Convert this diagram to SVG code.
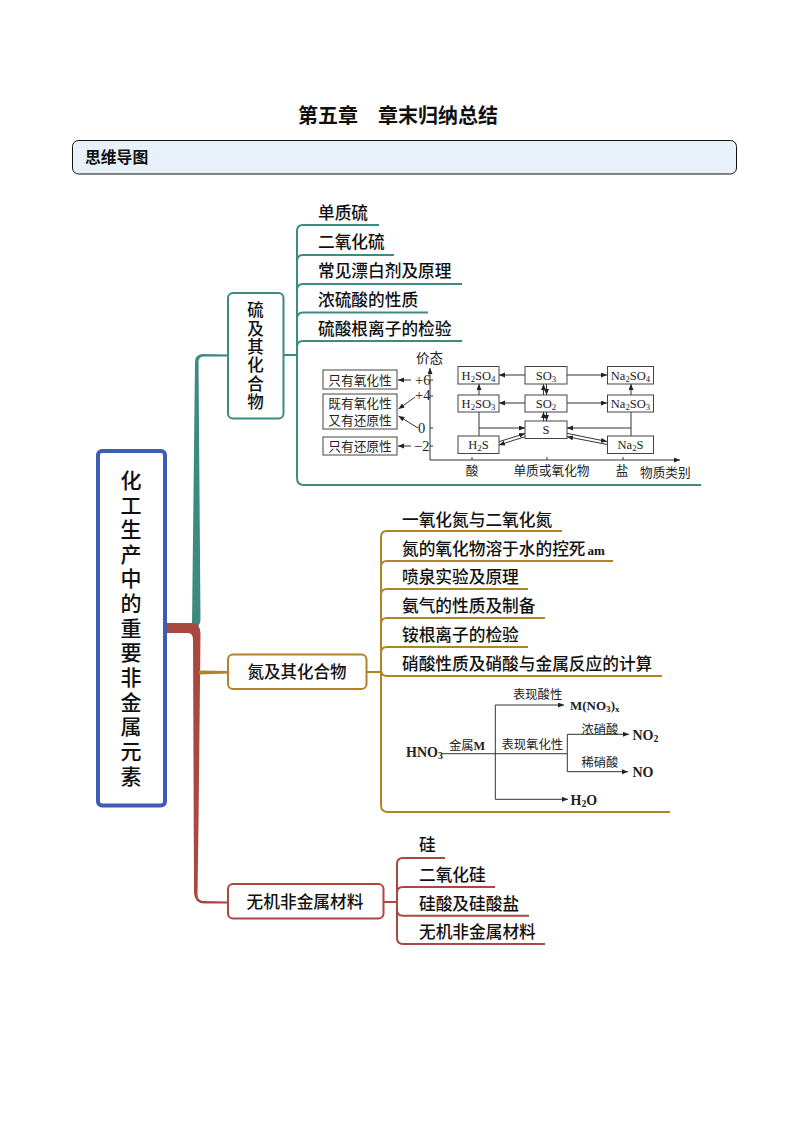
<svg xmlns="http://www.w3.org/2000/svg" width="794" height="1123" viewBox="0 0 794 1123">
<style>
text{font-family:"Noto Sans CJK SC","Noto Sans CJK TC",sans-serif;fill:#111}
.t{font-size:16.7px;font-weight:500}
.v{font-size:16.5px;font-weight:500;text-anchor:middle}
.vt{writing-mode:vertical-rl;font-weight:500}
.c{font-size:12.7px;fill:#222;font-weight:400}
.m{font-family:"Liberation Serif","Noto Sans CJK SC",serif;font-size:12.5px;text-anchor:middle;fill:#222}
.h{font-family:"Liberation Serif","Noto Sans CJK SC",serif;font-size:14px;font-weight:700;fill:#222}
.n{font-family:"Liberation Serif",serif;font-size:14.5px;fill:#222}
.s{font-size:70%}
.box{fill:#fff;stroke-width:2}
.teal{stroke:#3c8a80}.och{stroke:#b08426}.red{stroke:#a9483f}
.br{fill:none;stroke-width:2}
.tb{fill:#fff;stroke:#444;stroke-width:1}
.a{fill:none;stroke:#333;stroke-width:1;marker-end:url(#ah)}
.l{fill:none;stroke:#333;stroke-width:1}
</style>
<defs>
<marker id="ah" markerUnits="userSpaceOnUse" markerWidth="7" markerHeight="6" refX="6" refY="2.5" orient="auto"><path d="M0 0L6 2.5L0 5Z" fill="#222"/></marker>
</defs>
<rect width="794" height="1123" fill="#fff"/>
<g id="title"><text x="298" y="122.500" style="font-size:20px;font-weight:700">第五章　章末归纳总结</text></g>
<g id="header"><rect x="72.500" y="140.500" width="664" height="33.500" rx="6" fill="#e8f1f9" stroke="#111" stroke-width="1"/><text x="85" y="163" style="font-size:15.800px;font-weight:700">思维导图</text></g>

<g id="connectors">
<path d="M195 362Q195 355 202 354L228 354.500V356.500L203 356.500Q198.500 357 198.500 362L200.500 620Q200 627 194 628L192 625Z" fill="#3c8a80"/>
<path d="M167 623L193 623Q200 624 200.500 633L198.500 825L197.500 895Q198 901 204 901L228 901.500V903.500L204 903.500Q194.500 903 194 893L193 640Q193 633 188 633L167 633Z" fill="#a9483f"/>
<path d="M199 670.500L228 671V673.500L199 674.500Z" fill="#b08426"/>
<path class="br teal" d="M284 355H297M379 225H303Q297 225 297 231V478Q297 485 304 485H701M394 255H303Q297 255 297 261M462 284H303Q297 284 297 290M428 312.500H303Q297 312.500 297 319M462 341H303Q297 341 297 347"/>
<path class="br och" d="M367 672H381M562 531H387Q381 531 381 537V805Q381 812 388 812H670M613 561H387Q381 561 381 567M528 589H387Q381 589 381 595M545 618H387Q381 618 381 624M528 647H387Q381 647 381 653M662 676H387Q381 676 381 670"/>
<path class="br red" d="M384 902H397M445 858H403Q397 858 397 864V938Q397 944 403 944H545M495 887H403Q397 887 397 893M529 915.700H403Q397 915.700 397 910"/>
</g>

<g id="root"><rect x="98" y="451" width="67" height="354.500" rx="4" fill="#fff" stroke="#3f5bb5" stroke-width="4"/>
<text class="vt" x="131" y="469.500" style="font-size:21px;letter-spacing:3.63px">化工生产中的重要非金属元素</text></g>

<g id="node-sulfur"><rect class="box teal" x="228" y="293" width="55.500" height="125.500" rx="5"/>
<text class="vt" x="255.500" y="301.700" style="font-size:16.5px;letter-spacing:1.9px">硫及其化合物</text></g>
<g id="node-nitrogen"><rect class="box och" x="228" y="654.500" width="138.500" height="34.500" rx="5"/><text class="v" x="297" y="678">氮及其化合物</text></g>
<g id="node-materials"><rect class="box red" x="228" y="884" width="155.500" height="34.500" rx="5"/><text class="v" x="305" y="908" style="font-size:16.700px">无机非金属材料</text></g>

<g id="sulfur-items">
<text class="t" x="318" y="219">单质硫</text>
<text class="t" x="318" y="248">二氧化硫</text>
<text class="t" x="318" y="277">常见漂白剂及原理</text>
<text class="t" x="318" y="306">浓硫酸的性质</text>
<text class="t" x="318" y="335">硫酸根离子的检验</text>
</g>
<g id="nitrogen-items">
<text class="t" x="402" y="526">一氧化氮与二氧化氮</text>
<text class="t" x="402" y="555">氮的氧化物溶于水的控死<tspan font-family="Liberation Serif" font-size="13" font-weight="700" dx="2">am</tspan></text>
<text class="t" x="402" y="583">喷泉实验及原理</text>
<text class="t" x="402" y="612">氨气的性质及制备</text>
<text class="t" x="402" y="641">铵根离子的检验</text>
<text class="t" x="402" y="670">硝酸性质及硝酸与金属反应的计算</text>
</g>
<g id="material-items">
<text class="t" x="419" y="851">硅</text>
<text class="t" x="419" y="881">二氧化硅</text>
<text class="t" x="419" y="910">硅酸及硅酸盐</text>
<text class="t" x="419" y="938">无机非金属材料</text>
</g>

<g id="sulfur-chart">
<rect class="tb" x="323" y="370" width="74" height="19"/>
<rect class="tb" x="323" y="394" width="74" height="35"/>
<rect class="tb" x="323" y="437" width="74" height="18"/>
<text class="c" x="360" y="384.500" text-anchor="middle">只有氧化性</text>
<text class="c" x="360" y="407.500" text-anchor="middle">既有氧化性</text>
<text class="c" x="360" y="424.500" text-anchor="middle">又有还原性</text>
<text class="c" x="360" y="451" text-anchor="middle">只有还原性</text>
<path class="a" d="M411 380H398"/><path class="a" d="M415 397L398.500 409"/><path class="a" d="M418 428L398.500 416"/><path class="a" d="M411 446H398"/>
<text class="n" x="415" y="385">+6</text><text class="n" x="415" y="400">+4</text><text class="n" x="418" y="433">0</text><text class="n" x="414" y="451">−2</text>
<path class="a" d="M430 460V368"/><path class="a" d="M430 460H680"/>
<path class="l" d="M430 380H433M430 396H433M430 428H433M430 446H433M472 460V457M547 460V457M623 460V457"/>
<text class="c" x="416" y="363" style="font-size:13.500px">价态</text>
<text class="c" x="472" y="475" text-anchor="middle">酸</text>
<text class="c" x="551.500" y="475" text-anchor="middle">单质或氧化物</text>
<text class="c" x="622" y="475" text-anchor="middle">盐</text>
<text class="c" x="640" y="477">物质类别</text>
<path class="l" d="M479 436V412M631 436V412"/>
<path class="a" d="M479 428H525"/><path class="a" d="M631 428H567"/><path class="a" d="M525 375H499"/><path class="a" d="M567 375H607"/><path class="a" d="M525 403H499"/><path class="a" d="M567 403H607"/><path class="a" d="M479 395V384"/><path class="a" d="M631 395V384"/><path class="a" d="M543.500 395V384"/><path class="a" d="M546.500 384V395"/><path class="a" d="M543.500 421V412"/><path class="a" d="M546.500 412V421"/><path class="a" d="M499 441.700L525 433.500"/><path class="a" d="M525 436.700L499 445"/><path class="a" d="M566.700 433.300L607 441.500"/><path class="a" d="M607.300 444.500L567 436.700"/>
<g id="chem-boxes">
<rect class="tb" x="458" y="366.500" width="41" height="17.500"/><rect class="tb" x="525" y="366.500" width="42" height="17.500"/><rect class="tb" x="607.500" y="366.500" width="46" height="17.500"/>
<rect class="tb" x="458" y="395" width="41" height="17"/><rect class="tb" x="525" y="395" width="42" height="17"/><rect class="tb" x="607.500" y="395" width="46" height="17"/>
<rect class="tb" x="525" y="421" width="42" height="17.500"/><rect class="tb" x="458" y="436" width="41" height="17.500"/><rect class="tb" x="607.500" y="436" width="46" height="17.500"/>
</g>
<text class="m" x="478.500" y="379.500">H<tspan class="s" dy="2">2</tspan><tspan dy="-2">SO</tspan><tspan class="s" dy="2">4</tspan></text>
<text class="m" x="546" y="379.500">SO<tspan class="s" dy="2">3</tspan></text>
<text class="m" x="630.500" y="379.500">Na<tspan class="s" dy="2">2</tspan><tspan dy="-2">SO</tspan><tspan class="s" dy="2">4</tspan></text>
<text class="m" x="478.500" y="407.500">H<tspan class="s" dy="2">2</tspan><tspan dy="-2">SO</tspan><tspan class="s" dy="2">3</tspan></text>
<text class="m" x="546" y="407.500">SO<tspan class="s" dy="2">2</tspan></text>
<text class="m" x="630.500" y="407.500">Na<tspan class="s" dy="2">2</tspan><tspan dy="-2">SO</tspan><tspan class="s" dy="2">3</tspan></text>
<text class="m" x="546" y="434">S</text>
<text class="m" x="478.500" y="449">H<tspan class="s" dy="2">2</tspan><tspan dy="-2">S</tspan></text>
<text class="m" x="630.500" y="449">Na<tspan class="s" dy="2">2</tspan><tspan dy="-2">S</tspan></text>
</g>

<g id="nitric-chart">
<path class="l" d="M442 753.700H567.300M495.300 705V799.300M567.300 734.300V771.700"/>
<path class="a" d="M495.300 705H564"/><path class="a" d="M495.300 799.300H568"/><path class="a" d="M567.300 734.300H629"/><path class="a" d="M567.300 771.700H628"/>
<text class="h" x="406" y="757">HNO<tspan class="s" dy="2">3</tspan></text>
<text class="h" x="570" y="710" style="font-size:13px">M(NO<tspan class="s" dy="2">3</tspan><tspan dy="-2">)</tspan><tspan class="s" dy="2">x</tspan></text>
<text class="h" x="632.500" y="740">NO<tspan class="s" dy="2">2</tspan></text>
<text class="h" x="632.500" y="777">NO</text>
<text class="h" x="570.500" y="805">H<tspan class="s" dy="2">2</tspan><tspan dy="-2">O</tspan></text>
<text class="c" x="513" y="698.500" style="font-size:12.300px">表现酸性</text>
<text class="c" x="449" y="749.500" style="font-size:12.300px">金属<tspan font-family="Liberation Serif" font-weight="700">M</tspan></text>
<text class="c" x="501.500" y="748.500" style="font-size:12.300px">表现氧化性</text>
<text class="c" x="581.500" y="733.500" style="font-size:12.300px">浓硝酸</text>
<text class="c" x="581.500" y="766.500" style="font-size:12.300px">稀硝酸</text>
</g>
</svg>
